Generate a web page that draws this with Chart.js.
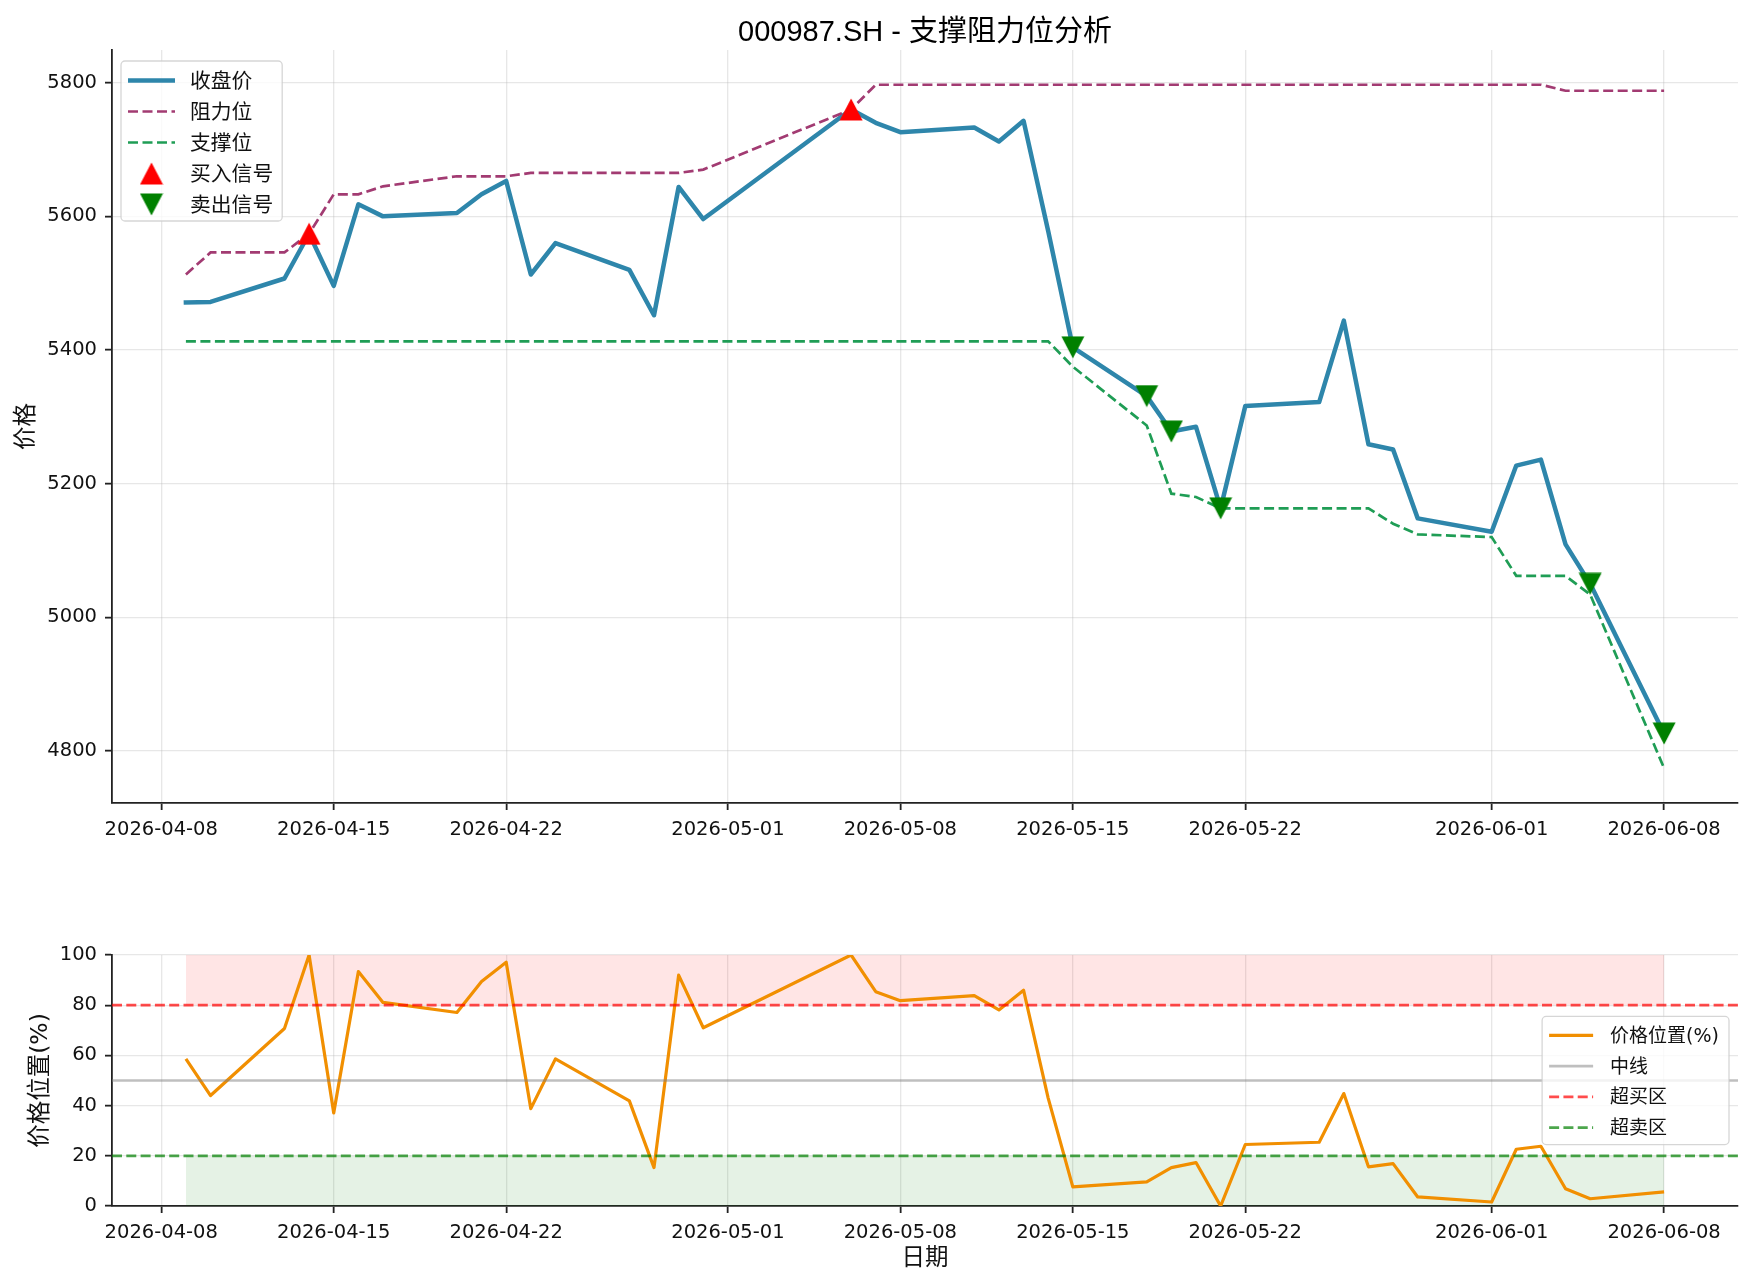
<!DOCTYPE html>
<html>
<head>
<meta charset="utf-8">
<title>000987.SH - 支撑阻力位分析</title>
<script src="https://cdn.jsdelivr.net/npm/chart.js@4.4.1/dist/chart.umd.min.js"></script>
<style>
  body { margin: 0; background: #fff; }
  #wrap { position: relative; width: 1754px; height: 1284px; }
  canvas { position: absolute; left: 0; }
  #priceChart { top: 0; }
  #posChart { top: 860px; }
</style>
</head>
<body>
<div id="wrap">
  <canvas id="priceChart" width="1754" height="860"></canvas>
  <canvas id="posChart" width="1754" height="424"></canvas>
</div>
<script>
const dates = [
    '2026-04-09', '2026-04-10', '2026-04-13', '2026-04-14', '2026-04-15', '2026-04-16', '2026-04-17',
    '2026-04-20', '2026-04-21', '2026-04-22', '2026-04-23', '2026-04-24', '2026-04-27', '2026-04-28',
    '2026-04-29', '2026-04-30', '2026-05-06', '2026-05-07', '2026-05-08', '2026-05-11', '2026-05-12',
    '2026-05-13', '2026-05-14', '2026-05-15', '2026-05-18', '2026-05-19', '2026-05-20', '2026-05-21',
    '2026-05-22', '2026-05-25', '2026-05-26', '2026-05-27', '2026-05-28', '2026-05-29', '2026-06-01',
    '2026-06-02', '2026-06-03', '2026-06-04', '2026-06-05', '2026-06-08'
];
const closePrices = [
    5471, 5472, 5507, 5574, 5496, 5618, 5600, 5605, 5633, 5653, 5513, 5560, 5520, 5452,
    5644, 5596, 5760, 5740, 5726, 5733, 5712, 5743, 5578, 5404, 5331, 5278, 5285, 5163,
    5316, 5322, 5444, 5259, 5251, 5148, 5128, 5227, 5236, 5109, 5050, 4826
];
const resistance = [
    5513, 5546, 5546, 5574, 5633, 5633, 5645, 5660, 5660, 5660, 5665, 5665, 5665, 5665,
    5665, 5670, 5760, 5797, 5797, 5797, 5797, 5797, 5797, 5797, 5797, 5797, 5797, 5797,
    5797, 5797, 5797, 5797, 5797, 5797, 5797, 5797, 5797, 5788, 5788, 5788
];
const support = [
    5413, 5413, 5413, 5413, 5413, 5413, 5413, 5413, 5413, 5413, 5413, 5413, 5413, 5413,
    5413, 5413, 5413, 5413, 5413, 5413, 5413, 5413, 5413, 5375, 5287, 5185, 5180, 5163,
    5163, 5163, 5163, 5163, 5140, 5124, 5120, 5062, 5062, 5062, 5034, 4774
];
const positionPct = [
    58.6, 44.0, 70.7, 100, 37.1, 93.4, 81.1, 77.1, 89.4, 97.1, 38.8, 58.6, 41.9, 15.3,
    92.0, 71.0, 100, 85.4, 81.8, 83.8, 78.1, 86.0, 43.0, 7.6, 9.6, 15.3, 17.3, 0,
    24.5, 25.4, 44.8, 15.6, 16.9, 3.6, 1.6, 22.6, 23.8, 6.9, 2.9, 5.6
];
const buyDates = ['2026-04-14', '2026-05-06'];
const sellDates = ['2026-05-15', '2026-05-18', '2026-05-19', '2026-05-21', '2026-06-05', '2026-06-08'];

const xTickDates = ['2026-04-08', '2026-04-15', '2026-04-22', '2026-05-01', '2026-05-08',
    '2026-05-15', '2026-05-22', '2026-06-01', '2026-06-08'];
const xRange = ['2026-04-06', '2026-06-11'];
const priceTicks = [4800, 5000, 5200, 5400, 5600, 5800];
const priceRange = [4722, 5849];
const posTicks = [0, 20, 40, 60, 80, 100];
const POS_MIN = 0, POS_MAX = 100;
const OVERBOUGHT = 80, MIDLINE = 50, OVERSOLD = 20;

const FONT = '"DejaVu Sans", "Noto Sans CJK SC", sans-serif';
const GRID = 'rgba(176, 176, 176, 0.3)';
const INK = '#222';

const DAY = 86400000;
const toDay = s => Date.parse(s + 'T00:00:00Z') / DAY;
const fmtDay = v => new Date(v * DAY).toISOString().slice(0, 10);
const xs = dates.map(toDay);
const series = vals => vals.map((v, i) => ({x: xs[i], y: v}));
const signal = list => list.map(d => ({x: toDay(d), y: closePrices[dates.indexOf(d)]}));
const hline = v => [{x: toDay(xRange[0]), y: v}, {x: toDay(xRange[1]), y: v}];

Chart.defaults.font.family = FONT;
Chart.defaults.color = '#111';

// matplotlib-style triangle marker, centred on its bounding box
function markerImage(color, down) {
    const c = document.createElement('canvas');
    c.width = 24;
    c.height = 23;
    const ctx = c.getContext('2d');
    ctx.beginPath();
    if (down) {
        ctx.moveTo(0.5, 0.5); ctx.lineTo(23.5, 0.5); ctx.lineTo(12, 22.5);
    } else {
        ctx.moveTo(12, 0.5); ctx.lineTo(23.5, 22.5); ctx.lineTo(0.5, 22.5);
    }
    ctx.closePath();
    ctx.fillStyle = color;
    ctx.fill();
    return c;
}
const buyMarker = markerImage('#ff0000', false);
const sellMarker = markerImage('#008000', true);

// framed legend drawn inside the plot, like matplotlib's
const boxLegend = {
    id: 'boxLegend',
    afterDraw(chart, args, opts) {
        const ctx = chart.ctx;
        const area = chart.chartArea;
        const items = chart.data.datasets.filter(d => !d.noLegend);
        ctx.save();
        ctx.font = `${opts.fontSize}px ${FONT}`;
        const textW = Math.max(...items.map(d => ctx.measureText(d.label).width));
        const w = opts.padX + opts.handle + opts.gap + textW + opts.padR;
        const h = opts.padTop + opts.padBottom + opts.rowH * (items.length - 1);
        let x, y;
        if (opts.loc === 'upper left') {
            x = area.left + opts.offsetX;
            y = area.top + opts.offsetY;
        } else {
            x = area.right - opts.offsetX - w;
            y = (area.top + area.bottom) / 2 - h / 2;
        }
        ctx.beginPath();
        if (ctx.roundRect) ctx.roundRect(x, y, w, h, 4); else ctx.rect(x, y, w, h);
        ctx.fillStyle = 'rgba(255, 255, 255, 0.8)';
        ctx.fill();
        ctx.lineWidth = 1.3;
        ctx.strokeStyle = 'rgba(204, 204, 204, 0.8)';
        ctx.stroke();

        items.forEach((d, i) => {
            const cy = y + opts.padTop + i * opts.rowH;
            const hx = x + opts.padX;
            if (d.showLine === false) {
                const img = d.pointStyle;
                ctx.drawImage(img, hx + opts.handle / 2 - img.width / 2, cy - img.height / 2);
            } else {
                ctx.beginPath();
                ctx.strokeStyle = d.borderColor;
                ctx.lineWidth = d.borderWidth;
                ctx.setLineDash(d.borderDash || []);
                ctx.moveTo(hx, cy);
                ctx.lineTo(hx + opts.handle, cy);
                ctx.stroke();
                ctx.setLineDash([]);
            }
            ctx.fillStyle = '#111';
            ctx.textBaseline = 'middle';
            ctx.textAlign = 'left';
            ctx.fillText(d.label, hx + opts.handle + opts.gap, cy + opts.textDy);
        });
        ctx.restore();
    }
};

const gridOpts = {color: GRID, lineWidth: 1.3, tickLength: 7, tickColor: INK, tickWidth: 1.8};
const borderOpts = {color: INK, width: 1.8};

function xAxis(height, title) {
    return {
        type: 'linear',
        min: toDay(xRange[0]),
        max: toDay(xRange[1]),
        afterBuildTicks: s => { s.ticks = xTickDates.map(d => ({value: toDay(d)})); },
        afterFit: s => { s.height = height; },
        ticks: {callback: v => fmtDay(v), padding: 8, maxRotation: 0, autoSkip: false, font: {size: 19.5}},
        grid: gridOpts,
        border: borderOpts,
        title: title
    };
}

function yAxis(range, ticks, title, titlePad) {
    return {
        min: range[0],
        max: range[1],
        afterBuildTicks: s => { s.ticks = ticks.map(v => ({value: v})); },
        afterFit: s => { s.width = 112; },
        ticks: {callback: v => String(v), padding: 8, font: {size: 19.5}},
        grid: gridOpts,
        border: borderOpts,
        title: {display: true, text: title, font: {size: 23.5}, padding: {top: titlePad, bottom: 0}}
    };
}

const common = {
    responsive: false,
    animation: false,
    devicePixelRatio: 1,
    events: [],
    elements: {line: {tension: 0}},
};

new Chart(document.getElementById('priceChart'), {
    type: 'line',
    data: {
        datasets: [
            {
                label: '收盘价', data: series(closePrices), borderColor: '#2E86AB', borderWidth: 4.5,
                pointRadius: 0, borderJoinStyle: 'round', borderCapStyle: 'square', order: 4
            },
            {
                label: '阻力位', data: series(resistance), borderColor: '#A23B72', borderWidth: 2.7,
                borderDash: [10, 4.5], pointRadius: 0, order: 3
            },
            {
                label: '支撑位', data: series(support), borderColor: '#1F9D55', borderWidth: 2.7,
                borderDash: [10, 4.5], pointRadius: 0, order: 2
            },
            {
                label: '买入信号', data: signal(buyDates), showLine: false, pointStyle: buyMarker,
                pointRadius: 12, order: 1
            },
            {
                label: '卖出信号', data: signal(sellDates), showLine: false, pointStyle: sellMarker,
                pointRadius: 12, order: 0
            }
        ]
    },
    options: {
        ...common,
        layout: {padding: {left: 0, right: 16, top: 0, bottom: 0}},
        scales: {
            x: xAxis(57, {display: false}),
            y: yAxis(priceRange, priceTicks, '价格', 13)
        },
        plugins: {
            legend: {display: false},
            tooltip: {enabled: false},
            title: {
                display: true,
                text: '000987.SH - 支撑阻力位分析',
                fullSize: false,
                color: '#000',
                font: {size: 29, weight: 'normal', family: '"Liberation Sans", "Noto Sans CJK SC", sans-serif'},
                padding: {top: 15.2, bottom: 0}
            },
            boxLegend: {loc: 'upper left', offsetX: 9, offsetY: 11, fontSize: 20.8,
                padX: 7, handle: 47, gap: 15, padR: 9, padTop: 19.5, padBottom: 16.5, rowH: 31, textDy: 2.5}
        }
    },
    plugins: [boxLegend]
});

new Chart(document.getElementById('posChart'), {
    type: 'line',
    data: {
        datasets: [
            {
                label: '价格位置(%)', data: series(positionPct), borderColor: '#F18F01', borderWidth: 3.2,
                pointRadius: 0, borderJoinStyle: 'round', order: 4
            },
            {
                label: '中线', data: hline(MIDLINE), borderColor: 'rgba(128, 128, 128, 0.5)', borderWidth: 2.7,
                pointRadius: 0, order: 3
            },
            {
                label: '超买区', data: hline(OVERBOUGHT), borderColor: 'rgba(255, 0, 0, 0.7)', borderWidth: 2.7,
                borderDash: [10, 4.3], pointRadius: 0, order: 2
            },
            {
                label: '超卖区', data: hline(OVERSOLD), borderColor: 'rgba(0, 128, 0, 0.7)', borderWidth: 2.7,
                borderDash: [10, 4.3], pointRadius: 0, order: 1
            },
            {
                label: 'overbought zone', noLegend: true, data: xs.map(x => ({x, y: POS_MAX})),
                fill: {value: OVERBOUGHT}, backgroundColor: 'rgba(255, 0, 0, 0.1)',
                borderWidth: 0, pointRadius: 0, order: 9
            },
            {
                label: 'oversold zone', noLegend: true, data: xs.map(x => ({x, y: OVERSOLD})),
                fill: {value: POS_MIN}, backgroundColor: 'rgba(0, 128, 0, 0.1)',
                borderWidth: 0, pointRadius: 0, order: 9
            }
        ]
    },
    options: {
        ...common,
        layout: {padding: {left: 0, right: 16, top: 95, bottom: 0}},
        scales: {
            x: xAxis(78, {display: true, text: '日期', font: {size: 23.5}, padding: {top: 0, bottom: 11}}),
            y: yAxis([POS_MIN, POS_MAX], posTicks, '价格位置(%)', 27)
        },
        plugins: {
            legend: {display: false},
            tooltip: {enabled: false},
            boxLegend: {loc: 'center right', offsetX: 9, offsetY: 0, fontSize: 19,
                padX: 7, handle: 44, gap: 17, padR: 10, padTop: 19, padBottom: 17, rowH: 30.7, textDy: 1.5}
        }
    },
    plugins: [boxLegend]
});
</script>
</body>
</html>
